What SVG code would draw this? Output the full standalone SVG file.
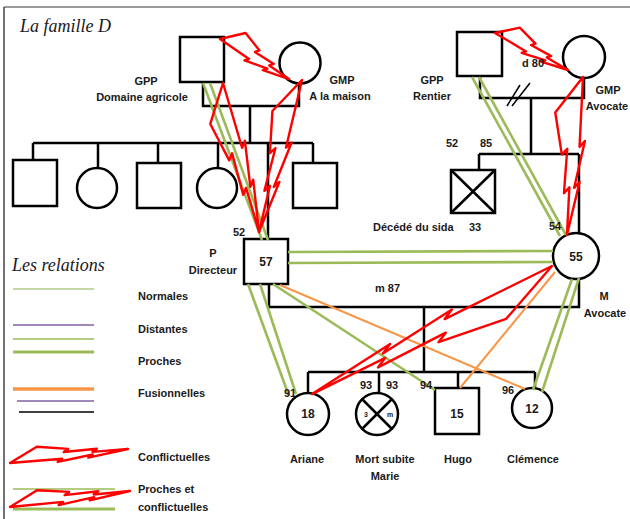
<svg xmlns="http://www.w3.org/2000/svg" width="630" height="519" viewBox="0 0 630 519">
<style>
.ln{stroke:#000;stroke-width:2.5;fill:none}
.sh{stroke:#000;stroke-width:2.5;fill:#fff}
.t{font-family:"Liberation Sans",Arial,sans-serif;font-weight:bold;font-size:11px;fill:#1a1a1a}
.c{text-anchor:middle}
.n{font-size:12px}
.ti{font-family:"Liberation Serif","Times New Roman",serif;font-style:italic;font-size:18px;fill:#1a1a1a}
.g{stroke:#9bbb59;stroke-width:2.6;fill:none}
.gl{stroke:#b3c98a;stroke-width:1.6;fill:none}
.o{stroke:#f79646;stroke-width:2;fill:none}
.p{stroke:#7f62a0;stroke-width:1.6;fill:none}
.b{stroke:#ff0000;fill:none}
</style>
<defs>
<path id="bolt" d="M0,0 L24,-1 L50,-0.55 L46,-0.35 L74,-0.3 L70,-0.1 L100,0 L66,0.3 L70,0.1 L40,0.35 L44,0.15 Z" stroke="#ff0000" stroke-width="2.4" fill="none" stroke-linejoin="round" vector-effect="non-scaling-stroke"/>
</defs>
<rect width="630" height="519" fill="#fff"/>
<g id="frame">
<line x1="4" y1="7" x2="630" y2="7" stroke="#9a9a9a" stroke-width="2"/>
<line x1="4" y1="7" x2="4" y2="519" stroke="#444" stroke-width="1.5"/>
</g>
<text class="ti" x="20" y="32">La famille D</text>

<g id="connectors">
<!-- left grandparents -->
<polyline class="ln" points="203,82 203,106 299,106 299,83"/>
<line class="ln" x1="250" y1="106" x2="250" y2="143"/>
<line class="ln" x1="33" y1="143" x2="313" y2="143"/>
<line class="ln" x1="33" y1="143" x2="33" y2="160"/>
<line class="ln" x1="98" y1="143" x2="98" y2="168"/>
<line class="ln" x1="158" y1="143" x2="158" y2="163"/>
<line class="ln" x1="218" y1="143" x2="218" y2="168"/>
<line class="ln" x1="268" y1="143" x2="268" y2="239"/>
<line class="ln" x1="313" y1="143" x2="313" y2="163"/>
<!-- right grandparents -->
<polyline class="ln" points="480,76 480,98 584,98 584,78"/>
<line stroke="#000" stroke-width="1.5" x1="507" y1="106" x2="520" y2="85"/>
<line stroke="#000" stroke-width="1.5" x1="512" y1="106" x2="530" y2="83"/>
<line class="ln" x1="531" y1="98" x2="531" y2="154"/>
<line class="ln" x1="479" y1="154" x2="579" y2="154"/>
<line class="ln" x1="479" y1="154" x2="479" y2="170"/>
<line class="ln" x1="579" y1="154" x2="579" y2="234"/>
<!-- parents -->
<polyline class="ln" points="269,284 269,307 579,307 579,278"/>
<line class="ln" x1="424" y1="307" x2="424" y2="372"/>
<line class="ln" x1="308" y1="372" x2="535" y2="372"/>
<line class="ln" x1="308" y1="372" x2="308" y2="393"/>
<line class="ln" x1="379" y1="372" x2="379" y2="393"/>
<line class="ln" x1="458" y1="372" x2="458" y2="388"/>
<line class="ln" x1="535" y1="372" x2="535" y2="388"/>
</g>

<g id="gpp-left"><rect class="sh" x="180" y="37" width="44" height="45"/></g>
<g id="gmp-left"><circle class="sh" cx="300" cy="63" r="20.5"/></g>
<g id="sib1"><rect class="sh" x="13" y="160" width="44" height="46"/></g>
<g id="sib2"><circle class="sh" cx="97" cy="188" r="20"/></g>
<g id="sib3"><rect class="sh" x="137" y="163" width="44" height="45"/></g>
<g id="sib4"><circle class="sh" cx="217" cy="188" r="20"/></g>
<g id="sib5"><rect class="sh" x="293" y="163" width="44" height="45"/></g>
<g id="gpp-right"><rect class="sh" x="457" y="32" width="45" height="44"/></g>
<g id="gmp-right"><circle class="sh" cx="584" cy="57" r="21"/></g>
<g id="uncle"><rect class="sh" x="451" y="170" width="44" height="43"/>
<line class="ln" x1="451" y1="170" x2="495" y2="213"/><line class="ln" x1="495" y1="170" x2="451" y2="213"/></g>
<g id="P"><rect class="sh" x="244" y="239" width="44" height="45"/><text class="t c n" x="266" y="266">57</text></g>
<g id="M"><circle class="sh" cx="576" cy="256" r="23"/><text class="t c n" x="576" y="261">55</text></g>
<g id="ariane"><circle class="sh" cx="308" cy="414" r="21"/><text class="t c n" x="308" y="418">18</text></g>
<g id="marie"><circle class="sh" cx="377" cy="414" r="21"/>
<line class="ln" x1="362" y1="399" x2="392" y2="429"/><line class="ln" x1="392" y1="399" x2="362" y2="429"/>
<text class="t c" style="font-size:7px" x="366" y="417">3</text><text class="t c" style="font-size:7px" x="390" y="417">m</text></g>
<g id="hugo"><rect class="sh" x="435" y="388" width="44" height="46"/><text class="t c n" x="457" y="418">15</text></g>
<g id="clemence"><circle class="sh" cx="532" cy="408" r="20"/><text class="t c n" x="532" y="413">12</text></g>

<g id="relations">
<line class="g" x1="203" y1="83" x2="262" y2="240"/>
<line class="g" x1="210" y1="83" x2="268" y2="240"/>
<line class="g" x1="472" y1="77" x2="560" y2="236"/>
<line class="g" x1="479" y1="77" x2="566" y2="235"/>
<line class="g" x1="288" y1="252" x2="553" y2="251"/>
<line class="g" x1="288" y1="263" x2="553" y2="262"/>
<line class="g" x1="248" y1="284" x2="289" y2="396"/>
<line class="g" x1="260" y1="284" x2="296" y2="394"/>
<line class="g" x1="273" y1="284" x2="435" y2="390"/>
<line class="o" x1="280" y1="285" x2="525" y2="389"/>
<line class="o" x1="555" y1="272" x2="460" y2="388"/>
<line class="g" x1="572" y1="279" x2="533" y2="390"/>
<line class="g" x1="579" y1="278" x2="542" y2="392"/>
<use href="#bolt" transform="translate(220,39) rotate(30.1) scale(0.798,18)"/>
<use href="#bolt" transform="translate(495,33) rotate(26.9) scale(0.818,16)"/>
<use href="#bolt" transform="translate(223,83) rotate(76.4) scale(1.533,-22)"/>
<use href="#bolt" transform="translate(302,80) rotate(105.8) scale(1.58,-20)"/>
<use href="#bolt" transform="translate(583,77) rotate(95.8) scale(1.588,-24)"/>
<use href="#bolt" transform="translate(552,266) rotate(151.9) scale(2.72,25)"/>
</g>

<g id="labels">
<text class="t c" x="146" y="85">GPP</text>
<text class="t c" x="142" y="101">Domaine agricole</text>
<text class="t c" x="342" y="84">GMP</text>
<text class="t c" x="340" y="100">A la maison</text>
<text class="t c" x="432" y="84">GPP</text>
<text class="t c" x="432" y="100">Rentier</text>
<text class="t" x="522" y="67">d 80</text>
<text class="t c" x="608" y="94">GMP</text>
<text class="t c" x="607" y="110">Avocate</text>
<text class="t c" x="452" y="147">52</text>
<text class="t c" x="486" y="147">85</text>
<text class="t" x="373" y="231">Décédé du sida</text>
<text class="t" x="469" y="231">33</text>
<text class="t" x="549" y="230">54</text>
<text class="t" x="233" y="236">52</text>
<text class="t c" x="213" y="257">P</text>
<text class="t c" x="213" y="274">Directeur</text>
<text class="t" x="375" y="292">m 87</text>
<text class="t c" x="604" y="300">M</text>
<text class="t c" x="605" y="317">Avocate</text>
<text class="t" x="284" y="397">91</text>
<text class="t" x="360" y="389">93</text>
<text class="t" x="386" y="389">93</text>
<text class="t" x="420" y="389">94</text>
<text class="t" x="502" y="394">96</text>
<text class="t c" x="307" y="463">Ariane</text>
<text class="t c" x="385" y="463">Mort subite</text>
<text class="t c" x="385" y="480">Marie</text>
<text class="t c" x="458" y="463">Hugo</text>
<text class="t c" x="533" y="463">Clémence</text>
</g>

<g id="legend">
<text class="ti" x="12" y="271">Les relations</text>
<line class="gl" x1="13" y1="289" x2="94" y2="289"/>
<text class="t" x="138" y="300">Normales</text>
<line class="p" x1="13" y1="325" x2="94" y2="325"/>
<text class="t" x="138" y="333">Distantes</text>
<line stroke="#9bbb59" stroke-width="1.6" x1="13" y1="339" x2="94" y2="339"/>
<line stroke="#9bbb59" stroke-width="3.2" x1="13" y1="352" x2="94" y2="352"/>
<text class="t" x="138" y="365">Proches</text>
<line stroke="#f79646" stroke-width="3.5" x1="13" y1="389" x2="94" y2="389"/>
<line class="p" x1="17" y1="401" x2="94" y2="401"/>
<line stroke="#000" stroke-width="1.6" x1="19" y1="412" x2="94" y2="412"/>
<text class="t" x="138" y="397">Fusionnelles</text>
<use href="#bolt" transform="translate(10,463) rotate(-6.77) scale(1.188,13)"/>
<text class="t" x="138" y="461">Conflictuelles</text>
<line stroke="#9bbb59" stroke-width="1.6" x1="13" y1="489" x2="115" y2="489"/>
<line stroke="#9bbb59" stroke-width="3.2" x1="13" y1="509" x2="115" y2="509"/>
<use href="#bolt" transform="translate(10,507) rotate(-7.6) scale(1.21,13)"/>
<text class="t" x="138" y="493">Proches et</text>
<text class="t" x="138" y="511">conflictuelles</text>
</g>
</svg>
